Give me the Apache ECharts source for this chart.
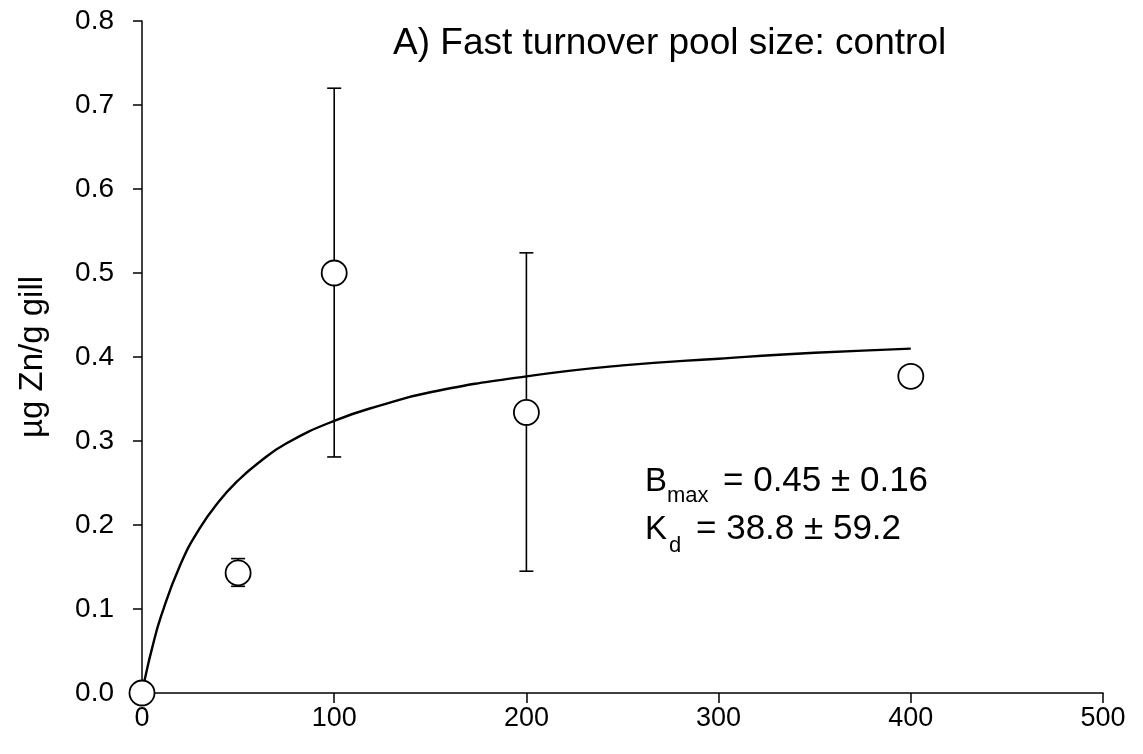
<!DOCTYPE html>
<html>
<head>
<meta charset="utf-8">
<script src="https://cdn.jsdelivr.net/npm/echarts@6/dist/echarts.min.js"></script>
<style>
html,body{margin:0;padding:0;background:#fff;}
#chart{width:1143px;height:754px;}
</style>
</head>
<body>
<div id="chart"></div>
<script>
// Observed points: concentration (x) and mean value (y)
const pointX = [0, 50, 100, 200, 400];
const pointY = [0, 0.143, 0.50, 0.334, 0.377];
// Error bar ends (low, high); null where no bar is drawn
const errLow = [null, 0.127, 0.281, 0.145, null];
const errHigh = [null, 0.160, 0.720, 0.524, null];
// Fitted curve, values
const curveX = [0, 2, 5, 10, 20, 30, 40, 50, 60, 75, 100, 125, 150, 200, 250, 300, 350, 400];
const curveY = [0, 0.022, 0.051, 0.092, 0.153, 0.196, 0.228, 0.253, 0.273, 0.297, 0.324, 0.343, 0.358, 0.377, 0.390, 0.398, 0.405, 0.410];
// Axis ticks
const xTicks = [0, 100, 200, 300, 400, 500];
const yTicks = [0, 0.1, 0.2, 0.3, 0.4, 0.5, 0.6, 0.7, 0.8];
const titleText = 'A) Fast turnover pool size: control';
const yName = 'µg Zn/g gill';
const bmaxText = '= 0.45 ± 0.16';
const kdText = '= 38.8 ± 59.2';

const font = 'Arial, "Liberation Sans", Helvetica, sans-serif';
const chart = echarts.init(document.getElementById('chart'));

const errData = [];
for (let i = 0; i < pointX.length; i++) {
  if (errLow[i] !== null) errData.push([pointX[i], errLow[i], errHigh[i]]);
}

function txt(x, y, text, size) {
  return {type: 'text', x: x, y: y, z: 10, style: {text: text, fill: '#000', font: size + 'px ' + font}};
}

chart.setOption({
  animation: false,
  backgroundColor: '#fff',
  grid: {left: 142, right: 40, top: 21, bottom: 61},
  xAxis: {
    type: 'value', min: 0, max: 500, interval: 100,
    axisLine: {show: true, onZero: false, lineStyle: {color: '#000', width: 1.5}},
    axisTick: {show: true, inside: false, length: 10, lineStyle: {color: '#000', width: 1.5}},
    axisLabel: {color: '#000', fontSize: 27, fontFamily: font, margin: 12},
    splitLine: {show: false}
  },
  yAxis: {
    type: 'value', min: 0, max: 0.8, interval: 0.1,
    name: yName, nameLocation: 'middle', nameGap: 93, nameRotate: 90,
    nameTextStyle: {color: '#000', fontSize: 33, fontFamily: font},
    axisLine: {show: true, onZero: false, lineStyle: {color: '#000', width: 1.5}},
    axisTick: {show: true, inside: false, length: 9, lineStyle: {color: '#000', width: 1.5}},
    axisLabel: {color: '#000', fontSize: 28, fontFamily: font, margin: 28,
      formatter: v => v.toFixed(1)},
    splitLine: {show: false}
  },
  graphic: [
    txt(393, 25, titleText, 37),
    txt(645, 465, 'B', 33),
    txt(667, 485, 'max', 22),
    txt(723, 464, bmaxText, 35),
    txt(645, 513, 'K', 33),
    txt(669, 535, 'd', 22),
    txt(696, 512, kdText, 35)
  ],
  series: [
    {
      type: 'line', data: curveX.map((x, i) => [x, curveY[i]]),
      smooth: true, showSymbol: false, symbol: 'none',
      lineStyle: {color: '#000', width: 2.4}, z: 2
    },
    {
      type: 'custom', data: errData, z: 3,
      renderItem: function (params, api) {
        const x = api.value(0);
        const lo = api.coord([x, api.value(1)]);
        const hi = api.coord([x, api.value(2)]);
        const cap = 7;
        const st = {stroke: '#000', lineWidth: 1.6};
        return {type: 'group', children: [
          {type: 'line', shape: {x1: lo[0], y1: lo[1], x2: hi[0], y2: hi[1]}, style: st},
          {type: 'line', shape: {x1: lo[0] - cap, y1: lo[1], x2: lo[0] + cap, y2: lo[1]}, style: st},
          {type: 'line', shape: {x1: hi[0] - cap, y1: hi[1], x2: hi[0] + cap, y2: hi[1]}, style: st}
        ]};
      }
    },
    {
      type: 'scatter', data: pointX.map((x, i) => [x, pointY[i]]),
      symbol: 'circle', symbolSize: 25, z: 5,
      itemStyle: {color: '#fff', opacity: 1, borderColor: '#000', borderWidth: 1.8}
    }
  ]
});
</script>
</body>
</html>
